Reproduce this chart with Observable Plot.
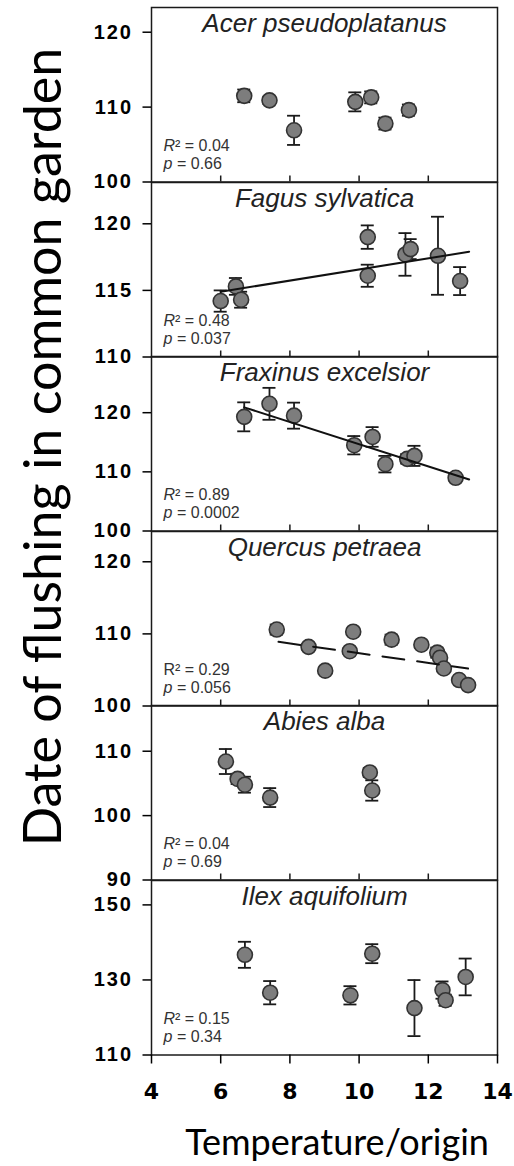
<!DOCTYPE html>
<html>
<head>
<meta charset="utf-8">
<script src="https://cdn.jsdelivr.net/npm/d3@7"></script>
<script src="https://cdn.jsdelivr.net/npm/@observablehq/plot@0.6"></script>
<style>
  body { margin: 0; background: #fff; }
  #wrap { position: relative; width: 514px; height: 1166px; overflow: hidden; background: #fff; }
  #wrap svg { position: absolute; left: 0; overflow: visible; background: transparent; }
  g[aria-label="y-axis tick label"] { letter-spacing: 2px; }
  .title { position: absolute; font-family: Lato, "Open Sans", sans-serif; line-height: 1; white-space: nowrap; color: #000; }
  #ytitle { font-size: 52px; left: 41px; top: 447px; transform: translate(-50%, -50%) rotate(-90deg); }
  #xtitle { font-size: 36px; left: 337px; top: 1123px; transform: translateX(-50%); }
</style>
</head>
<body>
<div id="wrap">
  <div class="title" id="ytitle">Date of flushing in common garden</div>
  <div class="title" id="xtitle">Temperature/origin</div>
</div>
<script>
// ---- data ----
const species = ["Acer pseudoplatanus", "Fagus sylvatica", "Fraxinus excelsior", "Quercus petraea", "Abies alba", "Ilex aquifolium"];

const acerTemp = [6.68, 7.41, 8.12, 9.89, 10.35, 10.76, 11.44];
const acerDate = [111.5, 110.9, 106.9, 110.7, 111.3, 107.8, 109.6];
const acerErr  = [0.85, 0.5, 1.95, 1.27, 0.8, 0.8, 0.75];

const fagusTemp = [6.0, 6.44, 6.59, 10.25, 10.25, 11.34, 11.49, 12.28, 12.92];
const fagusDate = [114.2, 115.3, 114.3, 119.0, 116.1, 117.7, 118.1, 117.6, 115.7];
const fagusErr  = [0.8, 0.63, 0.6, 0.88, 0.83, 1.6, 0.75, 2.93, 1.05];

const fraxTemp = [6.68, 7.41, 8.12, 9.86, 10.39, 10.76, 11.39, 11.6, 12.79];
const fraxDate = [119.3, 121.5, 119.5, 114.5, 115.9, 111.3, 112.2, 112.7, 109.0];
const fraxErr  = [2.45, 2.7, 2.2, 1.55, 1.66, 1.4, 0.8, 1.7, 0.5];

const quercTemp = [7.62, 8.54, 9.02, 9.83, 9.73, 10.94, 11.8, 12.26, 12.34, 12.45, 12.89, 13.15];
const quercDate = [110.6, 108.2, 104.9, 110.3, 107.6, 109.2, 108.5, 107.4, 106.7, 105.2, 103.6, 102.9];
const quercErr  = [0.7, 0.4, 0.4, 0.4, 0.4, 0.7, 0.4, 0.7, 0.4, 0.4, 0.4, 0.4];

const abiesTemp = [6.15, 6.49, 6.7, 7.43, 10.31, 10.38];
const abiesDate = [108.4, 105.7, 104.8, 102.8, 106.7, 103.9];
const abiesErr  = [1.94, 0.8, 1.24, 1.47, 0.7, 1.58];

const ilexTemp = [6.7, 7.43, 9.75, 10.38, 11.6, 12.41, 12.5, 13.08];
const ilexDate = [136.7, 126.6, 125.9, 137.0, 122.5, 127.3, 124.6, 130.8];
const ilexErr  = [3.47, 3.1, 2.44, 2.53, 7.47, 2.3, 1.5, 4.9];

// regression lines (end points)
const fagusFitTemp = [6.0, 13.18];
const fagusFitDate = [114.9, 117.9];
const fraxFitTemp  = [6.68, 13.18];
const fraxFitDate  = [120.9, 108.7];
const quercFitTemp = [7.67, 13.15];
const quercFitDate = [108.9, 105.2];

const r2Labels = ["0.04", "0.48", "0.89", "0.29", "0.04", "0.15"];
const pLabels  = ["0.66", "0.037", "0.0002", "0.056", "0.69", "0.34"];

const yDomains = [[100, 123.3], [110, 123.1], [100, 129.5], [100, 124.2], [90, 117.1], [110, 156.5]];
const yTicks   = [[100, 110, 120], [110, 115, 120], [100, 110, 120], [100, 110, 120], [90, 100, 110], [110, 130, 150]];
const xDomain  = [4, 14];
const xTicks   = [4, 6, 8, 10, 12, 14];
const innerXTicks = [6, 8, 10, 12];

// ---- assembly ----
const temps = [acerTemp, fagusTemp, fraxTemp, quercTemp, abiesTemp, ilexTemp];
const dates = [acerDate, fagusDate, fraxDate, quercDate, abiesDate, ilexDate];
const errs  = [acerErr, fagusErr, fraxErr, quercErr, abiesErr, ilexErr];
const fitTemps = [null, fagusFitTemp, fraxFitTemp, quercFitTemp, null, null];
const fitDates = [null, fagusFitDate, fraxFitDate, quercFitDate, null, null];

const wrap = document.getElementById("wrap");
const top0 = 7, panelH = 174.5;
const font = "'Liberation Sans', Arial, sans-serif";
const ink = "#1a1a1a";

species.forEach((name, i) => {
  const last = i === species.length - 1;
  const mT = 20, mB = last ? 75 : 20;
  const pts = temps[i].map((x, j) => ({x, y: dates[i][j], e: errs[i][j]}));
  const marks = [];

  marks.push(Plot.frame({stroke: ink, strokeWidth: 1.5}));
  marks.push(Plot.axisY({ticks: yTicks[i], tickSize: 8.5, tickPadding: 10, fontSize: 20, fontWeight: "bold",
    fontFamily: font, fill: "#000", stroke: "#000", strokeWidth: 1.5, label: null}));
  if (last) {
    marks.push(Plot.axisX({ticks: xTicks, tickSize: 9, tickPadding: 19, fontSize: 22, fontWeight: "bold",
      fontFamily: "'DejaVu Sans', sans-serif", fill: "#000", stroke: "#000", strokeWidth: 1.5, label: null}));
  } else {
    marks.push(Plot.ruleX(innerXTicks, {x: d => d, insetTop: panelH - 6, stroke: ink, strokeWidth: 1.5}));
  }

  // error bars
  marks.push(Plot.ruleX(pts, {x: "x", y1: d => d.y - d.e, y2: d => d.y + d.e, stroke: ink, strokeWidth: 1.8}));
  marks.push(Plot.ruleY(pts, {y: d => d.y + d.e, x1: "x", x2: "x", insetLeft: -6.5, insetRight: -6.5, stroke: ink, strokeWidth: 1.8}));
  marks.push(Plot.ruleY(pts, {y: d => d.y - d.e, x1: "x", x2: "x", insetLeft: -6.5, insetRight: -6.5, stroke: ink, strokeWidth: 1.8}));

  // points
  marks.push(Plot.dot(pts, {x: "x", y: "y", r: 7.5, fill: "#7d7d7d", stroke: "#333", strokeWidth: 1.6}));

  // regression line
  if (fitTemps[i]) {
    const fit = fitTemps[i].map((x, j) => ({x, y: fitDates[i][j]}));
    marks.push(Plot.line(fit, {x: "x", y: "y", stroke: "#111", strokeWidth: 2,
      strokeDasharray: name === "Quercus petraea" ? "22,13" : null}));
  }

  // species title
  marks.push(Plot.text([name], {text: d => d, frameAnchor: "top", lineAnchor: "top", dy: 6,
    fontSize: 26, fontStyle: "italic", fontFamily: font, fill: "#222"}));

  // statistics
  const rStyle = name === "Quercus petraea" ? "normal" : "italic";
  marks.push(Plot.text([r2Labels[i]], {text: () => "R", frameAnchor: "bottom-left", textAnchor: "start", lineAnchor: "middle",
    dx: 12, dy: -36, fontSize: 16, fontStyle: rStyle, fontFamily: font, fill: "#333"}));
  marks.push(Plot.text([r2Labels[i]], {text: d => "\u00B2 = " + d, frameAnchor: "bottom-left", textAnchor: "start", lineAnchor: "middle",
    dx: 23.5, dy: -36, fontSize: 16, fontFamily: font, fill: "#333"}));
  marks.push(Plot.text([pLabels[i]], {text: () => "p", frameAnchor: "bottom-left", textAnchor: "start", lineAnchor: "middle",
    dx: 12, dy: -18, fontSize: 16, fontStyle: "italic", fontFamily: font, fill: "#333"}));
  marks.push(Plot.text([pLabels[i]], {text: d => " = " + d, frameAnchor: "bottom-left", textAnchor: "start", lineAnchor: "middle",
    dx: 21, dy: -18, fontSize: 16, fontFamily: font, fill: "#333"}));

  const svg = Plot.plot({
    width: 514,
    height: panelH + mT + mB,
    marginLeft: 151,
    marginRight: 17,
    marginTop: mT,
    marginBottom: mB,
    style: {fontFamily: font, background: "transparent", overflow: "visible"},
    x: last ? {domain: xDomain} : {domain: xDomain, axis: null},
    y: {domain: yDomains[i]},
    marks
  });
  svg.style.top = (top0 + i * panelH - mT) + "px";
  wrap.appendChild(svg);
});
</script>
</body>
</html>
